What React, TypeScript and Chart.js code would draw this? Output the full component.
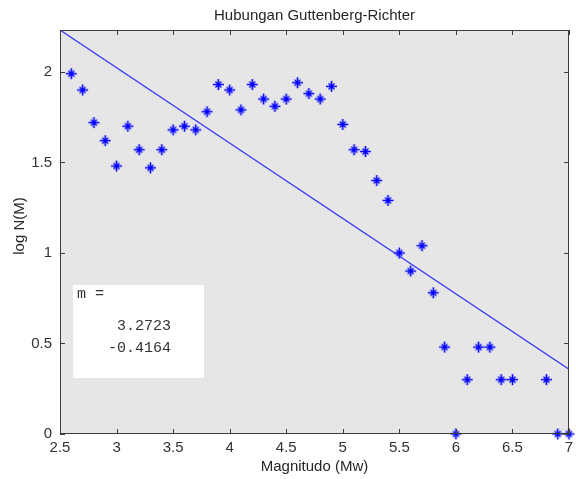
import React, { useEffect, useRef } from "react";
import { Chart, registerables } from "chart.js";

Chart.register(...registerables);

// Magnitude bins and observed log N(M)
const magnitudes = [
  2.6, 2.7, 2.8, 2.9, 3.0, 3.1, 3.2, 3.3, 3.4, 3.5,
  3.6, 3.7, 3.8, 3.9, 4.0, 4.1, 4.2, 4.3, 4.4, 4.5,
  4.6, 4.7, 4.8, 4.9, 5.0, 5.1, 5.2, 5.3, 5.4, 5.5,
  5.6, 5.7, 5.8, 5.9, 6.0, 6.1, 6.2, 6.3, 6.4, 6.5,
  6.8, 6.9, 7.0,
];
const logN = [
  1.99, 1.90, 1.72, 1.62, 1.48, 1.70, 1.57, 1.47, 1.57, 1.68,
  1.70, 1.68, 1.78, 1.93, 1.90, 1.79, 1.93, 1.85, 1.81, 1.85,
  1.94, 1.88, 1.85, 1.92, 1.71, 1.57, 1.56, 1.40, 1.29, 1.00,
  0.90, 1.04, 0.78, 0.48, 0.00, 0.30, 0.48, 0.48, 0.30, 0.30,
  0.30, 0.00, 0.00,
];

// Fitted line end points (a + b*M with a = 3.2723, b = -0.4164)
const fitX = [2.5, 7.0];
const fitY = [2.2313, 0.3575];
const coefficientLabels = ["3.2723", "-0.4164"];

const xTicks = [2.5, 3, 3.5, 4, 4.5, 5, 5.5, 6, 6.5, 7];
const yTicks = [0, 0.5, 1, 1.5, 2];

const titleText = "Hubungan Guttenberg-Richter";
const xLabel = "Magnitudo (Mw)";
const yLabel = "log N(M)";

const SANS = "'Liberation Sans', Arial, sans-serif";
const MONO = "'Liberation Mono', 'Courier New', monospace";

function makeMarker(): HTMLCanvasElement {
  const c = document.createElement("canvas");
  c.width = 13;
  c.height = 13;
  const g = c.getContext("2d")!;
  const m = 6.5;
  g.strokeStyle = "#0000ff";
  g.fillStyle = "#0000ff";
  g.lineWidth = 1.6;
  g.beginPath();
  g.moveTo(m, 1);
  g.lineTo(m, 12);
  g.moveTo(1, m);
  g.lineTo(12, m);
  g.stroke();
  g.lineWidth = 1.2;
  g.beginPath();
  g.moveTo(m - 3, m - 3);
  g.lineTo(m + 3, m + 3);
  g.moveTo(m + 3, m - 3);
  g.lineTo(m - 3, m + 3);
  g.stroke();
  g.beginPath();
  g.moveTo(m, m - 2.8);
  g.lineTo(m + 2.8, m);
  g.lineTo(m, m + 2.8);
  g.lineTo(m - 2.8, m);
  g.closePath();
  g.fill();
  return c;
}

const decorPlugin = {
  id: "decor",
  beforeDraw(chart: any) {
    const { ctx, chartArea: a } = chart;
    ctx.save();
    ctx.fillStyle = "#ffffff";
    ctx.fillRect(0, 0, chart.width, chart.height);
    ctx.fillStyle = "#e6e6e6";
    ctx.fillRect(a.left, a.top, a.right - a.left, a.bottom - a.top);
    ctx.restore();
  },
  afterDraw(chart: any) {
    const { ctx, chartArea: a, scales } = chart;
    ctx.save();
    // frame
    ctx.strokeStyle = "#3c3c3c";
    ctx.lineWidth = 1;
    ctx.strokeRect(a.left + 0.5, a.top + 0.5, a.right - a.left - 1, a.bottom - a.top - 1);
    // inward ticks
    const tl = 5;
    ctx.beginPath();
    xTicks.forEach((v) => {
      const px = Math.round(scales.x.getPixelForValue(v)) + 0.5;
      ctx.moveTo(px, a.bottom);
      ctx.lineTo(px, a.bottom - tl);
      ctx.moveTo(px, a.top);
      ctx.lineTo(px, a.top + tl);
    });
    yTicks.forEach((v) => {
      const py = Math.round(scales.y.getPixelForValue(v)) + 0.5;
      ctx.moveTo(a.left, py);
      ctx.lineTo(a.left + tl, py);
      ctx.moveTo(a.right, py);
      ctx.lineTo(a.right - tl, py);
    });
    ctx.stroke();

    // title and axis labels
    ctx.fillStyle = "#262626";
    ctx.font = `15px ${SANS}`;
    ctx.textAlign = "center";
    ctx.textBaseline = "middle";
    const cx = (a.left + a.right) / 2;
    ctx.fillText(titleText, cx, 16);
    ctx.fillText(xLabel, cx, 467);
    ctx.save();
    ctx.translate(20, (a.top + a.bottom) / 2 - 6);
    ctx.rotate(-Math.PI / 2);
    ctx.fillText(yLabel, 0, 0);
    ctx.restore();

    // coefficient text box
    const bx = a.left + 13;
    const by = a.top + 255;
    ctx.fillStyle = "#ffffff";
    ctx.fillRect(bx, by, 131, 93);
    ctx.fillStyle = "#333333";
    ctx.font = `15px ${MONO}`;
    ctx.textAlign = "left";
    ctx.textBaseline = "alphabetic";
    ctx.fillText("m =", bx + 4, by + 13);
    ctx.textAlign = "right";
    ctx.fillText(coefficientLabels[0], bx + 98, by + 45);
    ctx.fillText(coefficientLabels[1], bx + 98, by + 67);
    ctx.restore();
  },
};

const fmt = (v: any) => String(v);

export default function App() {
  const ref = useRef<HTMLCanvasElement | null>(null);
  useEffect(() => {
    if (!ref.current) return;
    const marker = makeMarker();
    const chart = new Chart(ref.current, {
      type: "scatter",
      data: {
        datasets: [
          {
            type: "line",
            data: fitX.map((x, i) => ({ x, y: fitY[i] })),
            borderColor: "rgb(50,50,255)",
            borderWidth: 1.2,
            pointRadius: 0,
            fill: false,
            showLine: true,
          } as any,
          {
            data: magnitudes.map((x, i) => ({ x, y: logN[i] })),
            pointStyle: marker,
            pointRadius: 6,
            borderColor: "#0000ff",
            backgroundColor: "#0000ff",
            clip: false,
          } as any,
        ],
      },
      options: {
        animation: false,
        responsive: false,
        events: [],
        layout: { padding: { top: 30, right: 3, left: 0, bottom: 0 } },
        plugins: { legend: { display: false }, tooltip: { enabled: false }, title: { display: false } },
        scales: {
          x: {
            type: "linear",
            min: 2.5,
            max: 7,
            afterFit: (s: any) => { s.height = 45; s.paddingLeft = 0; s.paddingRight = 0; },
            afterBuildTicks: (s: any) => { s.ticks = xTicks.map((v) => ({ value: v })); },
            ticks: { font: { size: 15, family: SANS }, color: "#333333", padding: 5, callback: fmt, autoSkip: false, maxRotation: 0 },
            grid: { display: false, drawTicks: false },
            border: { display: false },
          },
          y: {
            type: "linear",
            min: 0,
            max: 2.2313,
            afterFit: (s: any) => { s.width = 60; s.paddingTop = 0; s.paddingBottom = 0; },
            afterBuildTicks: (s: any) => { s.ticks = yTicks.map((v) => ({ value: v })); },
            ticks: { font: { size: 15, family: SANS }, color: "#333333", padding: 8, callback: fmt, autoSkip: false },
            grid: { display: false, drawTicks: false },
            border: { display: false },
          },
        },
      } as any,
      plugins: [decorPlugin],
    });
    return () => chart.destroy();
  }, []);
  return (
    <div style={{ position: "fixed", left: 0, top: 0, width: 576, height: 479 }}>
      <canvas ref={ref} width={576} height={479} style={{ width: 576, height: 479 }} />
    </div>
  );
}
